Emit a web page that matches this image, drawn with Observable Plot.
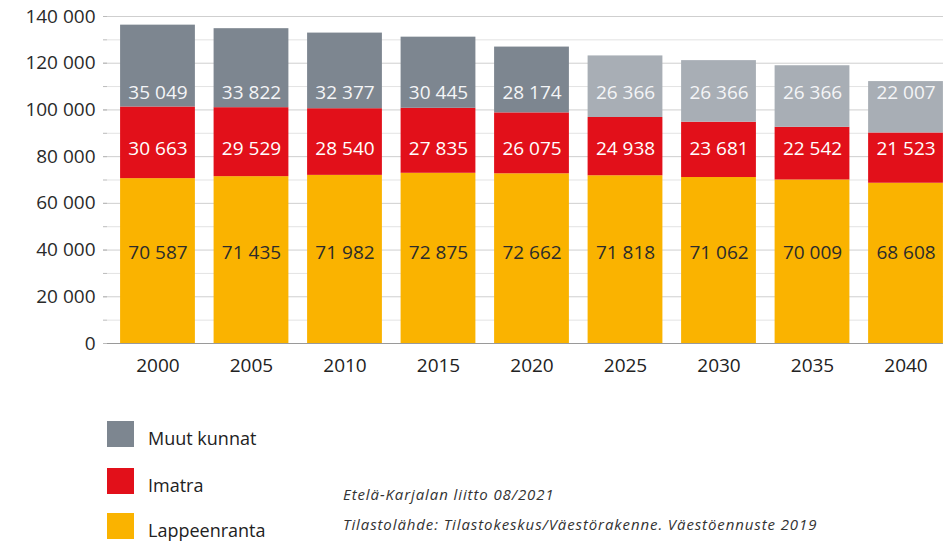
<!DOCTYPE html>
<html><head><meta charset="utf-8">
<script src="https://cdn.jsdelivr.net/npm/d3@7"></script>
<script src="https://cdn.jsdelivr.net/npm/@observablehq/plot@0.6"></script>
<style>
body{margin:0;background:#fff;font-family:"Open Sans",sans-serif;}
#wrap{position:relative;width:943px;height:544px;overflow:hidden;}
#chart{position:absolute;left:0;top:0;}
.lg{position:absolute;left:107px;width:27px;height:26px;}
.lt{position:absolute;left:148px;font-size:18px;color:#222;line-height:1;transform:translateY(-50%);}
.cap{position:absolute;left:343px;font-size:15px;letter-spacing:0.9px;font-style:italic;color:#333;line-height:1;transform:translateY(-50%);white-space:nowrap;}
</style></head><body>
<div id="wrap">
<div id="chart"></div>
<div id="legend"></div>
<div id="caption"></div>
</div>
<script>
const years = ["2000","2005","2010","2015","2020","2025","2030","2035","2040"];
const projected = [false,false,false,false,false,true,true,true,true];
const lappeenranta = [70587,71435,71982,72875,72662,71818,71062,70009,68608];
const imatra = [30663,29529,28540,27835,26075,24938,23681,22542,21523];
const muut = [35049,33822,32377,30445,28174,26366,26366,26366,22007];
const seriesNames = ["Lappeenranta","Imatra","Muut kunnat"];
const legendOrder = ["Muut kunnat","Imatra","Lappeenranta"];
const majorTicks = [0,20000,40000,60000,80000,100000,120000,140000];
const minorTicks = [10000,30000,50000,70000,90000,110000,130000];
const captionLines = ["Etelä-Karjalan liitto 08/2021","Tilastolähde: Tilastokeskus/Väestörakenne. Väestöennuste 2019"];

const colors = {"Lappeenranta":"#fab300","Imatra":"#e2101a","Muut kunnat":"#7d8690","Muut kunnat proj":"#a8aeb5"};
const textColors = {"Lappeenranta":"#2b2b2b","Imatra":"#ffffff","Muut kunnat":"#f4f5f7"};
const labelLevel = {"Lappeenranta":39000,"Imatra":83500,"Muut kunnat":107100};

const valuesBySeries = {"Lappeenranta":lappeenranta,"Imatra":imatra,"Muut kunnat":muut};
const rows = [];
seriesNames.forEach(s => years.forEach((y,i) => rows.push({year:y, series:s, value:valuesBySeries[s][i], proj:projected[i]})));

const fmt = d3.formatLocale({decimal:",", thousands:" ", grouping:[3], currency:["",""]}).format(",d");

const W = 943, H = 385, ML = 107, MT = 16, MB = 42;
const chart = Plot.plot({
  width: W, height: H,
  marginLeft: ML, marginRight: 0, marginTop: MT, marginBottom: MB,
  style: {fontFamily: "'Open Sans', sans-serif", background: "#fff"},
  x: {domain: years, range: [ML, 956], paddingInner: 0.2, paddingOuter: 0.14, round: false, label: null},
  y: {domain: [0, 140000], label: null},
  color: {type: "identity"},
  marks: [
    Plot.ruleY(minorTicks, {stroke: "#e3e3e3", strokeWidth: 1}),
    Plot.ruleY(majorTicks, {stroke: "#cfcfcf", strokeWidth: 1}),
    Plot.barY(rows, Plot.stackY({x: "year", y: "value", fill: d => d.series === "Muut kunnat" && d.proj ? colors["Muut kunnat proj"] : colors[d.series]})),
    Plot.axisY(majorTicks.concat(minorTicks), {tickSize: 4, tickFormat: () => "", stroke: "#bbb", label: null}),
    Plot.axisY(majorTicks, {tickSize: 4, tickPadding: 8, tickFormat: fmt, fontSize: 19, fill: "#2a2a2a", stroke: "#bbb", label: null}),
    Plot.ruleX([0], {x: () => null, frameAnchor: "left", y1: 0, y2: 140000, stroke: "#b5b5b5"}),
    Plot.ruleY([0], {stroke: "#9a9a9a"}),
    Plot.axisX({tickSize: 0, tickPadding: 15, fontSize: 19, fill: "#222", label: null}),
    Plot.text(rows, {x: "year", y: d => labelLevel[d.series], text: d => fmt(d.value), fill: d => textColors[d.series], fontSize: 19})
  ]
});
document.getElementById("chart").appendChild(chart);

const lg = document.getElementById("legend");
const legendY = [434, 481, 526];
legendOrder.forEach((s,i) => {
  const sq = document.createElement("div");
  sq.className = "lg"; sq.style.top = (legendY[i]-13)+"px"; sq.style.background = colors[s];
  lg.appendChild(sq);
  const t = document.createElement("div");
  t.className = "lt"; t.style.top = (legendY[i]+4)+"px"; t.textContent = s;
  lg.appendChild(t);
});
const cp = document.getElementById("caption");
const capY = [494, 524];
captionLines.forEach((c,i) => {
  const t = document.createElement("div");
  t.className = "cap"; t.style.top = capY[i]+"px"; t.textContent = c;
  cp.appendChild(t);
});
</script>
</body></html>
